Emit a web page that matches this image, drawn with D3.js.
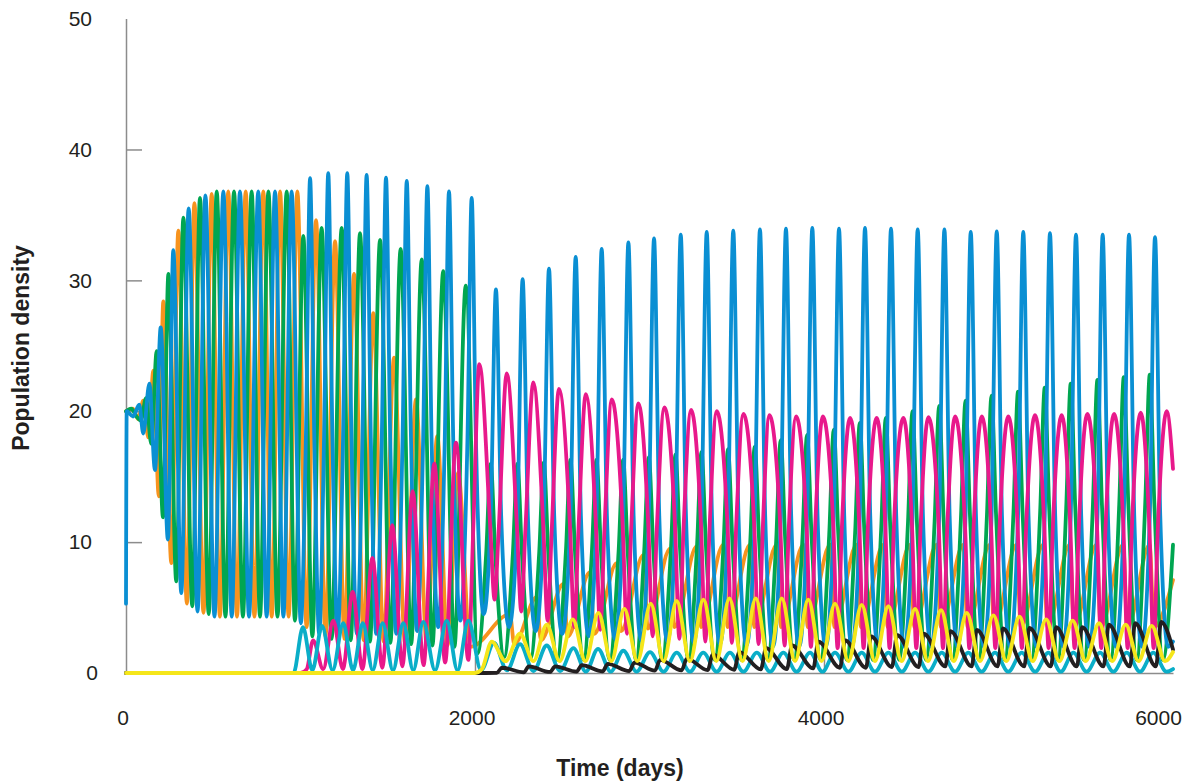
<!DOCTYPE html>
<html>
<head>
<meta charset="utf-8">
<script src="https://cdn.jsdelivr.net/npm/d3@7"></script>
<style>
  body { margin: 0; background: #fff; }
  text { font-family: "Liberation Sans", Arial, Helvetica, sans-serif; }
</style>
</head>
<body>
<svg id="chart" width="1192" height="783"></svg>
<script>
// values: [day, density]
const xTicks = [0, 2000, 4000, 6000];
const yTicks = [0, 10, 20, 30, 40, 50];

const orange = [
  [0,20],[40,20.2],[70,19.4],[99,20.8],[128,18.0],[157,23.1],[188,13.5],[214,28.4],[260,8.4],[300,33.8],
  [349,5.3],[392,35.9],[444,4.6],[491,36.6],[538,4.3],[586,36.8],[636,4.3],[686,36.8],[736,4.3],[787,36.8],
  [835,4.3],[883,36.8],[932,4.3],[982,36.8],[1035,3.5],[1089,34.6],[1143,2.8],[1198,33.0],[1252,2.6],[1307,30.5],
  [1362,2.5],[1417,27.5],[1476,2.4],[1536,24.1],[1599,2.3],[1662,20.9],[1723,2.2],[1784,18.1],[1843,2.1],[1903,15.3],
  [1975,2.0],[2200,4.5],[2225,2.2],[2353,5.8],[2378,2.5],[2506,6.8],[2531,2.8],[2659,7.7],[2684,3.0],[2812,8.4],
  [2837,3.2],[2965,9.0],[2990,3.4],[3118,9.5],[3143,3.5],[3271,9.7],[3296,3.5],[3423,9.8],[3448,3.5],[3576,9.8],
  [3601,3.5],[3729,9.8],[3754,3.5],[3882,9.8],[3907,3.5],[4035,9.8],[4060,3.5],[4187,9.8],[4212,3.5],[4340,9.8],
  [4365,3.5],[4493,9.8],[4518,3.5],[4645,9.8],[4670,3.5],[4798,9.8],[4823,3.5],[4950,9.8],[4975,3.5],[5103,9.8],
  [5128,3.5],[5256,9.8],[5281,3.5],[5408,9.8],[5433,3.5],[5561,9.8],[5586,3.5],[5714,9.8],[5739,3.5],[5866,9.8],
  [5891,3.5],[6000,7.1]
];

const green = [
  [0,20],[30,20.2],[60,19.6],[85,19.3],[115,21.0],[145,17.5],[176,24.6],[212,11.9],[243,30.5],[288,7.0],
  [329,34.8],[380,5.1],[424,36.3],[474,4.5],[520,36.8],[570,4.3],[619,36.8],[670,4.3],[720,36.8],[768,4.3],
  [816,36.8],[868,4.3],[921,36.8],[968,4.0],[1016,33.4],[1068,2.8],[1121,34.0],[1178,2.6],[1236,34.0],[1288,2.5],
  [1341,33.6],[1398,2.4],[1456,33.1],[1515,2.3],[1574,32.4],[1634,2.2],[1695,31.6],[1756,2.1],[1818,30.7],[1882,2.0],
  [1947,29.6],[2015,1.5],
  [2064,9.1],[2090,16.0],[2116,9.1],[2167,1.2],[2217,9.1],[2243,16.0],[2269,9.1],[2318,1.1],
  [2368,9.2],[2394,16.1],[2420,9.2],[2470,1.0],[2521,9.3],[2547,16.3],[2573,9.3],[2622,1.0],
  [2670,9.3],[2696,16.3],[2722,9.3],[2772,1.0],[2823,9.3],[2849,16.3],[2875,9.3],[2923,1.0],
  [2970,9.4],[2996,16.5],[3022,9.4],[3073,1.0],[3123,9.5],[3149,16.7],[3175,9.5],[3224,1.0],
  [3272,9.6],[3298,16.9],[3324,9.6],[3374,1.0],[3424,9.7],[3450,17.1],[3476,9.7],[3526,1.0],
  [3577,9.9],[3603,17.3],[3629,9.9],[3678,1.0],[3726,10.1],[3752,17.8],[3778,10.1],[3828,1.0],
  [3877,10.4],[3903,18.2],[3929,10.4],[3980,1.0],[4030,10.6],[4056,18.6],[4082,10.6],[4130,1.0],
  [4179,10.9],[4205,19.1],[4231,10.9],[4280,1.0],[4328,11.1],[4354,19.5],[4380,11.1],[4430,1.0],
  [4481,11.4],[4507,20.0],[4533,11.4],[4584,1.0],[4634,11.6],[4660,20.4],[4686,11.6],[4736,1.0],
  [4785,11.9],[4811,20.8],[4837,11.9],[4886,1.0],[4934,12.1],[4960,21.2],[4986,12.1],[5036,1.0],
  [5086,12.3],[5112,21.5],[5138,12.3],[5188,1.0],[5239,12.4],[5265,21.8],[5291,12.4],[5340,1.0],
  [5388,12.6],[5414,22.1],[5440,12.6],[5490,1.0],[5541,12.8],[5567,22.4],[5593,12.8],[5642,1.0],
  [5692,12.9],[5718,22.6],[5744,12.9],[5792,1.0],[5841,13.0],[5867,22.8],[5893,13.0],[5942,1.0],
  [6000,9.8]
];

const blue = [
  [0,5.3],[4,20],[40,19.6],[76,20.5],[99,18.3],[134,22.1],[166,15.5],[199,26.4],[240,10.2],[271,32.3],
  [317,6.1],[359,35.5],[410,4.7],[455,36.5],[507,4.3],[558,36.8],[606,4.3],[653,36.8],[705,4.3],[758,36.8],
  [806,4.3],[854,36.8],[902,4.3],[949,36.8],[1002,3.8],
  [1031,18],[1055,37.8],[1079,18],[1107,3.0],[1135,18],[1159,38.2],[1183,18],[1213,3.0],[1244,18],[1268,38.2],
  [1292,18],[1323,3.0],[1355,18],[1379,38.05],[1403,18],[1434,3.0],[1466,18],[1490,37.85],[1514,18],[1549,3.0],
  [1585,18],[1609,37.6],[1633,18],[1668,3.2],[1703,18],[1727,37.2],[1751,18],[1789,3.5],[1827,18],[1851,36.8],
  [1875,18],[1916,4.0],[1957,18],[1981,36.3],[2005,18],[2050,4.5],
  [2090,12],[2120,29.3],[2150,12],[2195,3.5],[2243,12],[2273,30.1],[2303,12],[2348,3.2],
  [2394,12],[2424,30.9],[2454,12],[2500,3.0],[2547,12],[2577,31.8],[2607,12],[2652,2.8],
  [2696,12],[2726,32.4],[2756,12],[2802,2.6],[2849,12],[2879,32.9],[2909,12],[2953,2.5],
  [2996,12],[3026,33.2],[3056,12],[3103,2.4],[3149,12],[3179,33.5],[3209,12],[3254,2.3],
  [3298,12],[3328,33.7],[3358,12],[3404,2.2],[3450,12],[3480,33.8],[3510,12],[3556,2.1],
  [3603,12],[3633,33.9],[3663,12],[3708,2.0],[3752,12],[3782,33.95],[3812,12],[3858,2.0],
  [3903,12],[3933,34.0],[3963,12],[4010,2.0],[4056,12],[4086,33.95],[4116,12],[4160,2.0],
  [4205,12],[4235,34.0],[4265,12],[4310,2.0],[4354,12],[4384,33.95],[4414,12],[4460,2.0],
  [4507,12],[4537,33.9],[4567,12],[4614,2.0],[4660,12],[4690,33.9],[4720,12],[4766,2.0],
  [4811,12],[4841,33.7],[4871,12],[4916,2.0],[4960,12],[4990,33.75],[5020,12],[5066,2.0],
  [5112,12],[5142,33.7],[5172,12],[5218,2.0],[5265,12],[5295,33.6],[5325,12],[5370,2.0],
  [5414,12],[5444,33.5],[5474,12],[5520,2.0],[5567,12],[5597,33.5],[5627,12],[5672,2.0],
  [5718,12],[5748,33.5],[5778,12],[5822,2.0],[5867,12],[5897,33.3],[5927,12],[5972,2.0],
  [6000,2.4]
];

const pink = [
  [0,0],[1000,0],[1036,0.3],[1072,2.5],[1130,0.3],[1188,4.0],[1243,0.3],[1299,6.2],[1355,0.3],[1412,8.8],
  [1469,0.4],[1526,11.3],[1584,0.5],[1643,13.9],[1705,0.6],[1767,16.0],[1829,0.8],[1891,17.6],[1962,1.0],[1990,11],
  [2025,23.6],[2088,11],[2112,5.6],[2136,11],[2182,22.9],[2241,11],[2265,4.7],[2289,11],[2334,22.2],[2392,11],
  [2416,4.0],[2440,11],[2481,21.7],[2545,11],[2569,3.5],[2593,11],[2635,21.3],[2694,11],[2718,3.3],[2742,11],
  [2784,20.9],[2847,11],[2871,3.0],[2895,11],[2936,20.6],[2994,11],[3018,2.8],[3042,11],[3085,20.3],[3147,11],
  [3171,2.6],[3195,11],[3238,20.1],[3296,11],[3320,2.4],[3344,11],[3385,20.0],[3448,11],[3472,2.3],[3496,11],
  [3538,19.8],[3601,11],[3625,2.2],[3649,11],[3687,19.7],[3750,11],[3774,2.1],[3798,11],[3840,19.6],[3901,11],
  [3925,2.0],[3949,11],[3993,19.6],[4054,11],[4078,1.9],[4102,11],[4149,19.5],[4203,11],[4227,1.9],[4251,11],
  [4302,19.5],[4352,11],[4376,1.9],[4400,11],[4455,19.5],[4505,11],[4529,1.9],[4553,11],[4598,19.55],[4658,11],
  [4682,1.9],[4706,11],[4751,19.6],[4809,11],[4833,1.9],[4857,11],[4904,19.6],[4958,11],[4982,1.9],[5006,11],
  [5056,19.6],[5110,11],[5134,1.9],[5158,11],[5209,19.7],[5263,11],[5287,1.9],[5311,11],[5362,19.7],[5412,11],
  [5436,1.9],[5460,11],[5509,19.8],[5565,11],[5589,1.9],[5613,11],[5662,19.8],[5716,11],[5740,1.9],[5764,11],
  [5815,19.9],[5865,11],[5889,1.9],[5913,11],[5964,20.0],[6000,15.6]
];

const cyan = [
  [0,0],[960,0],[1014,3.5],[1068,0.2],[1123,3.6],[1184,0.2],[1245,3.8],[1301,0.2],[1357,3.8],[1414,0.2],
  [1471,3.8],[1530,0.2],[1589,3.8],[1646,0.2],[1704,3.9],[1771,0.2],[1838,4.0],[1900,0.2],[1962,4.0],[2035,0.2],
  [2109,2.3],[2183,0.2],[2258,2.2],[2335,0.15],[2411,2.1],[2488,0.15],[2564,1.9],[2635,0.1],[2705,1.85],[2778,0.1],
  [2850,1.7],[2926,0.1],[3003,1.6],[3080,0.1],[3156,1.55],[3232,0.1],[3308,1.55],[3385,0.1],[3461,1.55],[3538,0.1],
  [3615,1.55],[3691,0.1],[3767,1.55],[3843,0.1],[3920,1.55],[3991,0.1],[4063,1.55],[4140,0.1],[4216,1.55],[4292,0.1],
  [4369,1.55],[4446,0.1],[4522,1.55],[4598,0.1],[4675,1.55],[4751,0.1],[4827,1.55],[4903,0.1],[4980,1.55],[5056,0.1],
  [5133,1.55],[5210,0.1],[5286,1.55],[5357,0.1],[5429,1.55],[5505,0.1],[5582,1.55],[5658,0.1],[5735,1.55],[5811,0.1],
  [5887,1.55],[5963,0.1],[6000,0.3]
];

const black = [
  [0,0],[2000,0],[2125,0.02],[2155,0.4],[2280,0.05],[2308,0.5],[2430,0.08],[2459,0.5],[2582,0.1],[2612,0.6],
  [2731,0.12],[2761,0.7],[2884,0.15],[2914,0.8],[3031,0.18],[3061,1.0],[3184,0.2],[3214,1.1],[3333,0.22],[3363,1.4],
  [3485,0.25],[3515,1.6],[3638,0.28],[3668,1.9],[3787,0.3],[3817,2.1],[3938,0.35],[3968,2.4],[4091,0.4],[4121,2.5],
  [4240,0.4],[4270,2.8],[4389,0.45],[4419,2.9],[4542,0.45],[4572,3.0],[4695,0.5],[4725,3.2],[4846,0.5],[4876,3.3],
  [4995,0.5],[5025,3.4],[5147,0.5],[5177,3.45],[5300,0.5],[5330,3.5],[5449,0.5],[5479,3.5],[5602,0.5],[5632,3.7],
  [5753,0.5],[5783,3.8],[5902,0.5],[5932,3.9],[6000,1.8]
];

const yellow = [
  [0,0],[2000,0],[2040,0.3],[2096,2.4],[2175,0.9],[2258,3.0],[2335,0.9],[2411,3.7],[2485,0.9],[2560,4.1],
  [2633,0.9],[2707,4.6],[2781,0.9],[2856,4.9],[2931,0.9],[3007,5.3],[3081,0.9],[3156,5.5],[3232,0.9],[3309,5.6],
  [3383,0.9],[3458,5.7],[3533,0.9],[3609,5.7],[3683,0.9],[3758,5.7],[3834,0.9],[3910,5.6],[3986,0.9],[4063,5.3],
  [4140,0.9],[4216,5.2],[4292,0.9],[4369,5.1],[4445,0.9],[4522,4.9],[4596,0.9],[4671,4.8],[4744,0.9],[4818,4.6],
  [4894,0.9],[4971,4.4],[5045,0.9],[5120,4.3],[5196,0.9],[5273,4.1],[5349,0.9],[5425,4.0],[5500,0.9],[5576,3.8],
  [5652,0.9],[5729,3.7],[5803,0.9],[5878,3.6],[5955,0.9],[6000,1.6]
];

const series = [
  { name: "orange", color: "#f7931e", values: orange },
  { name: "green", color: "#00a651", values: green },
  { name: "blue", color: "#0a8fd3", values: blue },
  { name: "pink", color: "#e8198b", values: pink },
  { name: "cyan", color: "#0aaec8", values: cyan },
  { name: "black", color: "#231f20", values: black },
  { name: "yellow", color: "#f5e61a", values: yellow }
];

const svg = d3.select("#chart");

const x = d3.scaleLinear().domain([0, 6000]).range([126, 1173]);
const y = d3.scaleLinear().domain([0, 50]).range([673, 18.6]);

// axes
const xAxis = d3.axisBottom(x).tickValues(xTicks).tickFormat(d3.format("d"))
  .tickSize(-16).tickSizeOuter(0).tickPadding(37);
const yAxis = d3.axisLeft(y).tickValues(yTicks).tickFormat(d3.format("d"))
  .tickSize(-16).tickSizeOuter(0).tickPadding(34);

const gx = svg.append("g").attr("transform", "translate(0,673)").call(xAxis);
const gy = svg.append("g").attr("transform", "translate(126,0)").call(yAxis);

[gx, gy].forEach((g) => {
  g.select(".domain").attr("stroke", "#8c8c8c").attr("stroke-width", 1.5);
  g.selectAll(".tick line").attr("stroke", "#8c8c8c").attr("stroke-width", 1.5);
  g.selectAll(".tick text").attr("font-size", 21).attr("fill", "#231f20")
    .style("font-family", '"Liberation Sans", Arial, sans-serif');
});

gx.selectAll(".tick line").filter((d) => d === 0 || d === 6000).remove();
gy.selectAll(".tick line").filter((d) => d === 0 || d === 50).remove();
gx.selectAll(".tick text").attr("dx", (d) => (d === 6000 ? -15 : -3.5));
gy.selectAll(".tick text").attr("dx", (d) => (d === 0 ? 6 : 0));

// lines
const line = d3.line()
  .x((d) => x(d[0]))
  .y((d) => y(d[1]))
  .curve(d3.curveMonotoneX);

svg.append("g")
  .selectAll("path")
  .data(series)
  .enter()
  .append("path")
  .attr("d", (d) => line(d.values))
  .attr("fill", "none")
  .attr("stroke", (d) => d.color)
  .attr("stroke-width", 3.8)
  .attr("stroke-linejoin", "round")
  .attr("stroke-linecap", "round");

// axis titles
svg.append("text")
  .attr("x", 620)
  .attr("y", 776)
  .attr("text-anchor", "middle")
  .attr("font-size", 23)
  .attr("font-weight", "bold")
  .attr("fill", "#231f20")
  .text("Time (days)");

svg.append("text")
  .attr("transform", "translate(29,348) rotate(-90)")
  .attr("text-anchor", "middle")
  .attr("font-size", 23)
  .attr("font-weight", "bold")
  .attr("fill", "#231f20")
  .text("Population density");
</script>
</body>
</html>
